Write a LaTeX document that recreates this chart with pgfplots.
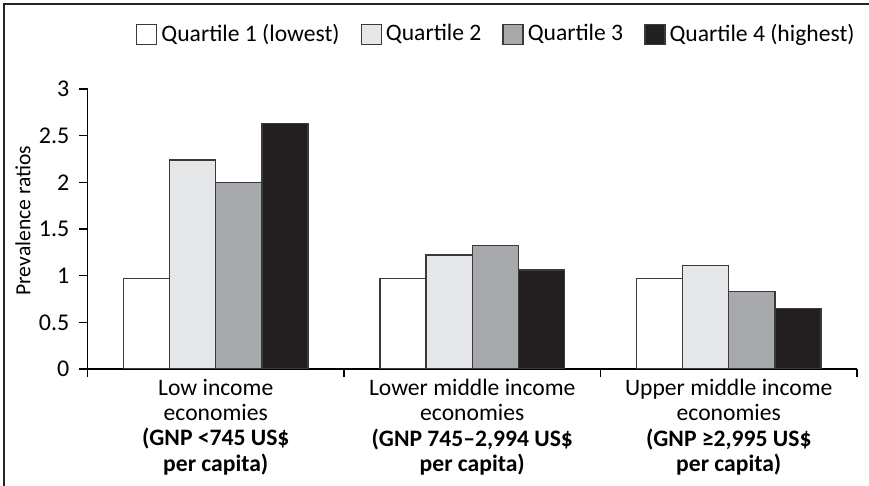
\documentclass[border=0pt]{standalone}
\usepackage{pgfplots}
\pgfplotsset{compat=1.18}
\usepackage{fontspec}
\setmainfont{Carlito}
\definecolor{qone}{HTML}{FFFFFF}
\definecolor{qtwo}{HTML}{E6E7E8}
\definecolor{qthree}{HTML}{A7A9AC}
\definecolor{qfour}{HTML}{231F20}
\definecolor{edge}{HTML}{3A3A3A}
\begin{document}
\fontsize{11.8}{12.2}\selectfont
\begin{tikzpicture}
\useasboundingbox (0,0) rectangle (434.5pt,243pt);
\draw[line width=1.2pt, black!85] (2pt,0) -- (2pt,241pt) -- (434.5pt,241pt);
\begin{axis}[
  at={(43.75pt,58.5pt)}, anchor=south west,
  scale only axis, width=384.75pt, height=140pt,
  xmin=-0.5, xmax=2.5, ymin=0, ymax=3,
  axis x line*=bottom, axis y line*=left,
  axis line style={-, line width=0.6pt, black},
  ytick={0,0.5,1,1.5,2,2.5,3},
  yticklabels={0,0.5,1,1.5,2,2.5,3},
  xtick={-0.5,0.5,1.5,2.5}, xticklabels={},
  tick align=outside, major tick length=4pt,
  tick style={line width=0.6pt, black},
  /pgf/number format/assume math mode=true,
  yticklabel style={font=\fontsize{12}{14}\selectfont, xshift=-1pt},
  extra x ticks={0,1,2},
  extra x tick labels={
    {Low income\\economies\\\textbf{(GNP <745 US\$}\\\textbf{per capita)}},
    {Lower middle income\\economies\\\textbf{(GNP 745–2,994 US\$}\\\textbf{per capita)}},
    {Upper middle income\\economies\\\textbf{(GNP ≥2,995 US\$}\\\textbf{per capita)}}},
  extra x tick style={major tick length=0pt,
    xticklabel style={align=center, anchor=north, yshift=-1pt,
      font=\fontsize{11.8}{12.6}\selectfont}},
  ylabel={Prevalence ratios},
  ylabel style={at={(axis description cs:-0.084,0.53)}, anchor=center,
    font=\fontsize{10.8}{13}\selectfont},
  legend style={at={(axis description cs:1.0104,1.195)}, anchor=east,
    draw=none, fill=none, legend columns=4,
    font=\fontsize{11.8}{14}\selectfont,
    /tikz/every even column/.append style={column sep=8.5pt}},
  legend image code/.code={\draw[#1] (0pt,-5pt) rectangle (10pt,5pt);},
  legend cell align=left,
]
\addplot[ybar, bar width=0.18, bar shift=-0.27, fill=qone, draw=edge, line width=0.7pt]
  coordinates {(0,0.97) (1,0.97) (2,0.97)};
\addlegendentry{Quartile 1 (lowest)}
\addplot[ybar, bar width=0.18, bar shift=-0.09, fill=qtwo, draw=edge, line width=0.7pt]
  coordinates {(0,2.24) (1,1.22) (2,1.11)};
\addlegendentry{Quartile 2}
\addplot[ybar, bar width=0.18, bar shift=0.09, fill=qthree, draw=edge, line width=0.7pt]
  coordinates {(0,2.00) (1,1.32) (2,0.83)};
\addlegendentry{Quartile 3}
\addplot[ybar, bar width=0.18, bar shift=0.27, fill=qfour, draw=edge, line width=0.7pt]
  coordinates {(0,2.63) (1,1.06) (2,0.65)};
\addlegendentry{Quartile 4 (highest)}
\end{axis}
\end{tikzpicture}
\end{document}
